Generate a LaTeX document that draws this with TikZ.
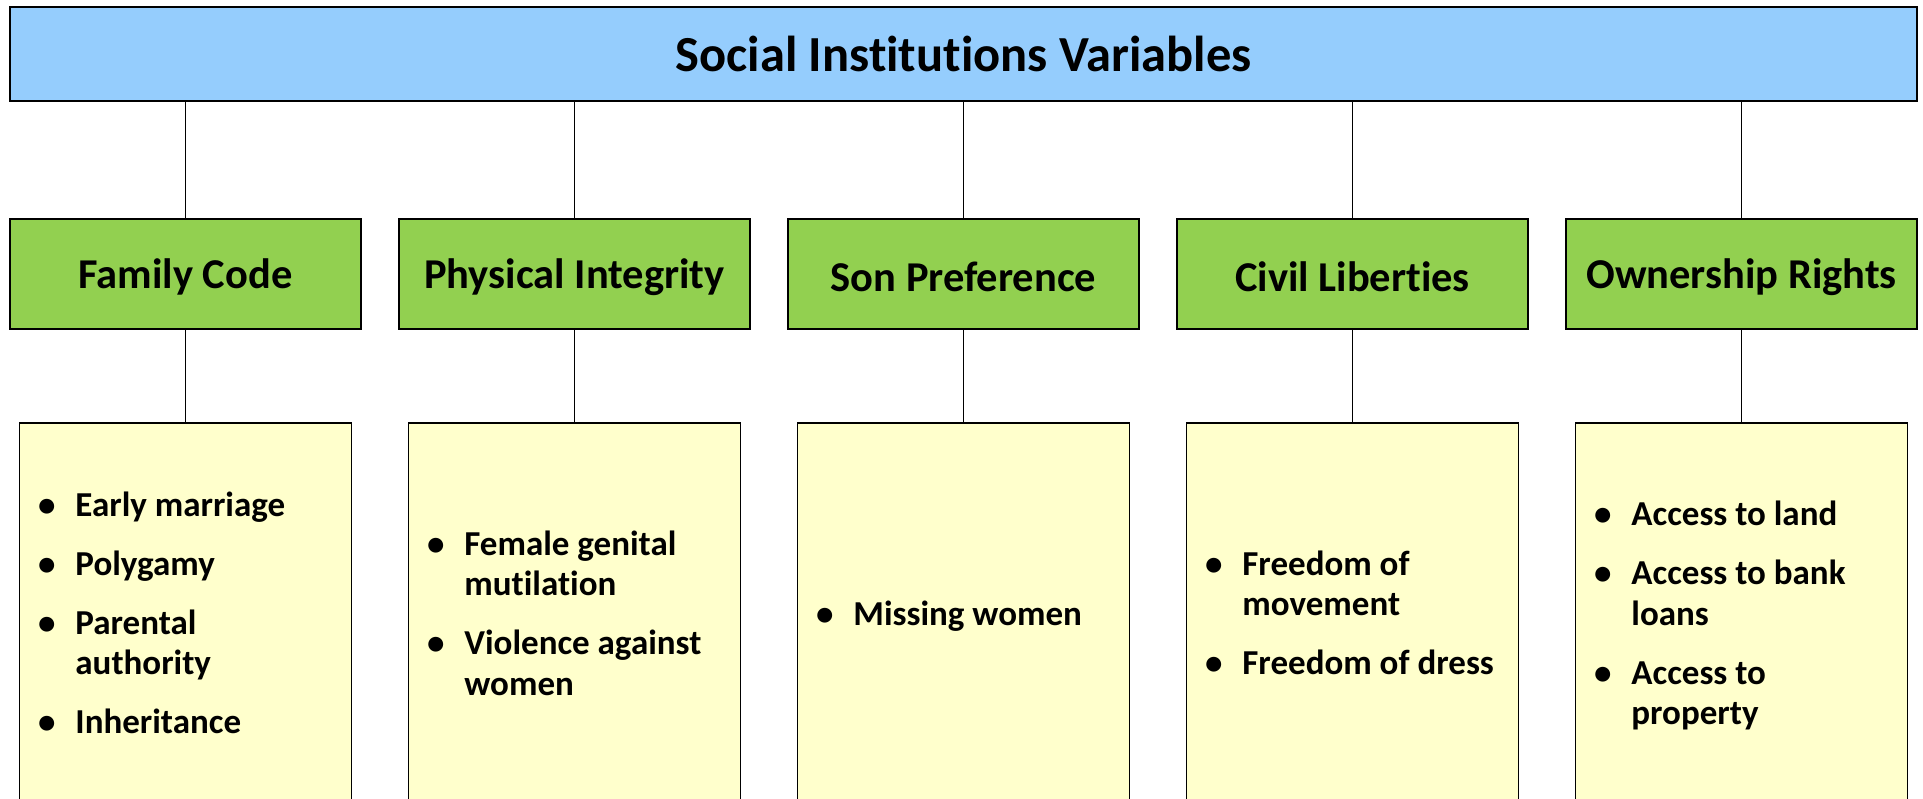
\documentclass[tikz,border=0pt]{standalone}
\usepackage{fontspec}
\setmainfont{Carlito}[Ligatures=NoCommon]
\definecolor{topblue}{HTML}{95CDFD}
\definecolor{catgreen}{HTML}{92D050}
\definecolor{itemyellow}{HTML}{FFFFCC}
\newcommand{\itemlist}[1]{\fontsize{35}{40.5}\selectfont\bfseries\spaceskip=0pt\xspaceskip=0pt\relax\raisebox{-3.5pt}[\height][\depth]{\begin{tabular}{@{}l@{\hspace{20pt}}l@{}}#1\end{tabular}}}
\newcommand{\catlabel}[1]{\raisebox{-2.5pt}[\height][\depth]{#1}}
\begin{document}
\begin{tikzpicture}[x=1pt,y=1pt,
  titlebox/.style={draw=black,line width=2pt,fill=topblue,minimum width=1907pt,minimum height=94pt,inner sep=0pt,font=\fontsize{50.5}{56}\selectfont\bfseries},
  catbox/.style={draw=black,line width=2pt,fill=catgreen,minimum width=351pt,minimum height=110pt,inner sep=0pt,font=\fontsize{42.5}{48}\selectfont\bfseries},
  listbox/.style={draw=black,line width=1.8pt,fill=itemyellow,minimum width=332pt,minimum height=381pt,text width=295pt,inner xsep=18.5pt,inner ysep=0pt,align=left},
  link/.style={draw=black,line width=1.3pt}]
\useasboundingbox (0,0) rectangle (1923,799);
\clip (0,0) rectangle (1923,799);
\fill[white] (0,0) rectangle (1923,799);
\node[titlebox] (top) at (963.5,745) {Social Institutions Variables};
\node[catbox] (g1) at (185.5,524.5) {\catlabel{Family Code}};
\node[catbox] (g2) at (574.5,524.5) {\catlabel{Physical Integrity}};
\node[catbox] (g3) at (963.5,524.5) {\catlabel{Son Preference}};
\node[catbox] (g4) at (1352.5,524.5) {\catlabel{Civil Liberties}};
\node[catbox] (g5) at (1741.5,524.5) {\catlabel{Ownership Rights}};
\node[listbox] (y1) at (185.5,185.5) {\itemlist{\textbullet & Early marriage\\[18.5pt] \textbullet & Polygamy\\[18.5pt] \textbullet & Parental\\ & authority\\[18.5pt] \textbullet & Inheritance}};
\node[listbox] (y2) at (574.5,185.5) {\itemlist{\textbullet & Female genital\\ & mutilation\\[18.5pt] \textbullet & Violence against\\ & women}};
\node[listbox] (y3) at (963.5,185.5) {\itemlist{\textbullet & Missing women}};
\node[listbox] (y4) at (1352.5,185.5) {\itemlist{\textbullet & Freedom of\\ & movement\\[18.5pt] \textbullet & Freedom of dress}};
\node[listbox] (y5) at (1741.5,185.5) {\itemlist{\textbullet & Access to land\\[18.5pt] \textbullet & Access to bank\\ & loans\\[18.5pt] \textbullet & Access to\\ & property}};
\foreach \i in {1,...,5}{
  \draw[link] (top.south -| g\i.north) -- (g\i.north);
  \draw[link] (g\i.south) -- (y\i.north);
}
\end{tikzpicture}
\end{document}
